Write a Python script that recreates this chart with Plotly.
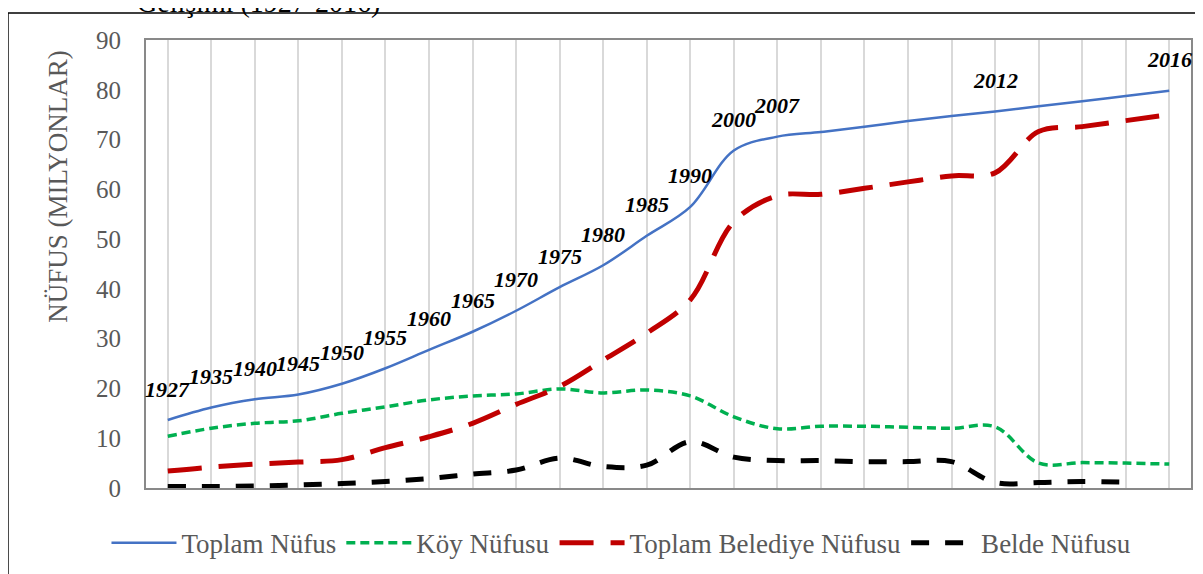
import plotly.graph_objects as go

years = ["1927", "1935", "1940", "1945", "1950", "1955", "1960", "1965", "1970",
         "1975", "1980", "1985", "1990", "2000", "2007", "2008", "2009", "2010",
         "2011", "2012", "2013", "2014", "2015", "2016"]

toplam = [13.65, 16.16, 17.82, 18.79, 20.95, 24.06, 27.75, 31.39, 35.61, 40.35,
          44.74, 50.66, 56.47, 67.80, 70.59, 71.52, 72.56, 73.72, 74.72, 75.63,
          76.67, 77.70, 78.74, 79.81]
koy = [10.4, 12.0, 13.0, 13.5, 15.0, 16.3, 17.7, 18.5, 18.9, 19.9, 19.1, 19.7,
       18.5, 14.3, 11.9, 12.4, 12.4, 12.2, 12.0, 12.3, 5.0, 5.1, 5.0, 4.8]
belediye = [3.4, 4.2, 4.8, 5.2, 5.7, 8.1, 10.3, 13.0, 16.8, 20.4, 25.7, 31.1,
            37.8, 53.5, 58.7, 59.0, 60.2, 61.5, 62.7, 63.3, 71.6, 72.6, 73.8, 75.0]
belde = [0.3, 0.3, 0.4, 0.6, 0.9, 1.3, 1.9, 2.8, 3.6, 6.0, 4.3, 4.6, 9.3, 6.2,
         5.5, 5.5, 5.3, 5.3, 5.3, 1.1, 1.1, 1.3, 1.2, None]

label_years = ["1927", "1935", "1940", "1945", "1950", "1955", "1960", "1965",
               "1970", "1975", "1980", "1985", "1990", "2000", "2007", "2012", "2016"]

series_names = ["Toplam Nüfus", "Köy Nüfusu", "Toplam Belediye Nüfusu", "Belde Nüfusu"]

title_text = "Gelişimi (1927-2016)"
y_title = "NÜFUS (MILYONLAR)"

SERIF = "Liberation Serif"

fig = go.Figure()
fig.add_trace(go.Scatter(x=years, y=toplam, name=series_names[0], mode="lines",
                         line=dict(color="#4472C4", width=2.5, shape="spline")))
fig.add_trace(go.Scatter(x=years, y=koy, name=series_names[1], mode="lines",
                         line=dict(color="#00B050", width=3.5, shape="spline", dash="9px,5px")))
fig.add_trace(go.Scatter(x=years, y=belediye, name=series_names[2], mode="lines",
                         line=dict(color="#C00000", width=5, shape="spline", dash="34px,17px")))
fig.add_trace(go.Scatter(x=years, y=belde, name=series_names[3], mode="lines",
                         line=dict(color="#000000", width=5, shape="spline", dash="18px,16px")))

annotations = []
for yr in label_years:
    i = years.index(yr)
    annotations.append(dict(x=i, y=toplam[i], xref="x", yref="y", text="<b><i>%s</i></b>" % yr,
                            showarrow=False, yshift=31, yanchor="middle", xanchor="center",
                            font=dict(family=SERIF, size=22, color="black")))

annotations.append(dict(x=-0.0839, y=0.673, xref="paper", yref="paper", text=y_title,
                        textangle=-90, showarrow=False, xanchor="center", yanchor="middle",
                        font=dict(family=SERIF, size=27, color="#595959")))
annotations.append(dict(x=0.108, y=1.044, xref="paper", yref="paper", text=title_text,
                        showarrow=False, xanchor="center", yanchor="bottom",
                        font=dict(family=SERIF, size=28, color="black")))

fig.update_layout(
    width=1195, height=566,
    margin=dict(l=138, r=12, t=32, b=86, autoexpand=False),
    paper_bgcolor="white", plot_bgcolor="white",
    showlegend=True,
    legend=dict(orientation="h", x=0.455, xanchor="center", y=-0.123, yanchor="middle",
                font=dict(family=SERIF, size=27, color="#595959"), itemwidth=65,
                traceorder="normal"),
    annotations=annotations,
    shapes=[dict(type="rect", xref="paper", yref="paper", x0=-0.1321, x1=1.05,
                 y0=-0.3, y1=1.0603, line=dict(color="black", width=1.5), layer="below")],
)
fig.update_xaxes(type="category", range=[-0.5, 23.5], showticklabels=False, ticks="",
                 showgrid=True, gridcolor="#d9d9d9", gridwidth=1.5,
                 showline=True, mirror=True, linecolor="#898989", linewidth=2, zeroline=False)
fig.update_yaxes(range=[0, 90], dtick=10, showgrid=False, zeroline=False,
                 showline=True, mirror=True, linecolor="#898989", linewidth=2,
                 ticks="", ticklabelstandoff=18,
                 tickfont=dict(family=SERIF, size=25, color="#595959"))

fig.write_html("out.html")
